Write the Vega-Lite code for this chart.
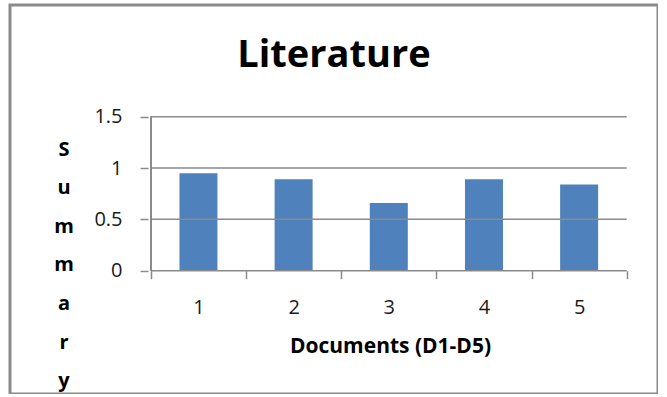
{
  "$schema": "https://vega.github.io/schema/vega-lite/v6.json",
  "width": 648,
  "height": 389,
  "autosize": {"type": "none"},
  "padding": {"left": 10, "top": 5, "right": 0, "bottom": 0},
  "background": "white",
  "title": {
    "text": "Literature",
    "font": "Open Sans",
    "fontSize": 38,
    "fontWeight": "bold",
    "color": "#000000",
    "anchor": "middle",
    "frame": "group",
    "baseline": "alphabetic",
    "offset": -64,
    "dy": 36
  },
  "datasets": {
    "scores": [
      {"doc": 1, "summary": 0.95},
      {"doc": 2, "summary": 0.89},
      {"doc": 3, "summary": 0.66},
      {"doc": 4, "summary": 0.89},
      {"doc": 5, "summary": 0.84}
    ],
    "gridlines": [
      {"level": 0},
      {"level": 0.5},
      {"level": 1},
      {"level": 1.5}
    ]
  },
  "layer": [
    {
      "data": {"name": "scores"},
      "mark": {"type": "bar", "size": 38, "color": "#4f81bd"},
      "encoding": {
        "x": {
          "field": "doc",
          "type": "quantitative",
          "scale": {"domain": [-0.9277, 5.7762], "nice": false, "zero": false},
          "axis": {
            "title": "Documents (D1-D5)",
            "values": [0.5, 1, 1.5, 2, 2.5, 3, 3.5, 4, 4.5, 5, 5.5],
            "labelExpr": "datum.value % 1 === 0 ? '' + datum.value : ''",
            "tickOpacity": {"condition": {"test": "datum.value % 1 === 0", "value": 0}, "value": 1},
            "offset": -123.3,
            "domain": false,
            "grid": false,
            "tickSize": 8,
            "tickColor": "#8a8a8a",
            "tickWidth": 1.5,
            "labelFont": "Open Sans",
            "labelFontSize": 20,
            "labelColor": "#1a1a1a",
            "labelPadding": 19,
            "labelBaseline": "top",
            "titleFont": "Open Sans",
            "titleFontSize": 21,
            "titleFontWeight": "bold",
            "titleColor": "#000000",
            "titleX": 380,
            "titleY": 82,
            "titleAlign": "center",
            "titleBaseline": "alphabetic"
          }
        },
        "y": {
          "field": "summary",
          "type": "quantitative",
          "scale": {"domain": [-1.201, 2.588], "nice": false, "zero": false},
          "axis": {
            "title": ["S", "u", "m", "m", "a", "r", "y"],
            "values": [0, 0.5, 1, 1.5],
            "labelExpr": "'' + datum.value",
            "offset": -138,
            "domain": false,
            "grid": false,
            "tickSize": 8,
            "tickColor": "#8a8a8a",
            "tickWidth": 1.5,
            "labelFont": "Open Sans",
            "labelFontSize": 20,
            "labelColor": "#1a1a1a",
            "labelPadding": 18,
            "titleFont": "Open Sans",
            "titleFontSize": 20,
            "titleFontWeight": "bold",
            "titleColor": "#000000",
            "titleAngle": 0,
            "titleAlign": "center",
            "titleBaseline": "top",
            "titleLineHeight": 38.6,
            "titleX": -84.5,
            "titleY": 134
          }
        }
      }
    },
    {
      "data": {"name": "gridlines"},
      "mark": {"type": "rule", "color": "#8a8a8a", "strokeWidth": 1.5},
      "encoding": {
        "y": {"field": "level", "type": "quantitative"},
        "x": {"datum": 0.5, "type": "quantitative"},
        "x2": {"datum": 5.5}
      }
    },
    {
      "data": {"name": "gridlines"},
      "mark": {"type": "rule", "color": "#8a8a8a", "strokeWidth": 1.5},
      "encoding": {
        "x": {"datum": 0.5, "type": "quantitative"},
        "y": {"datum": 0, "type": "quantitative"},
        "y2": {"datum": 1.5}
      }
    }
  ],
  "config": {
    "view": {"stroke": "#8a8a8a", "strokeWidth": 3}
  }
}
